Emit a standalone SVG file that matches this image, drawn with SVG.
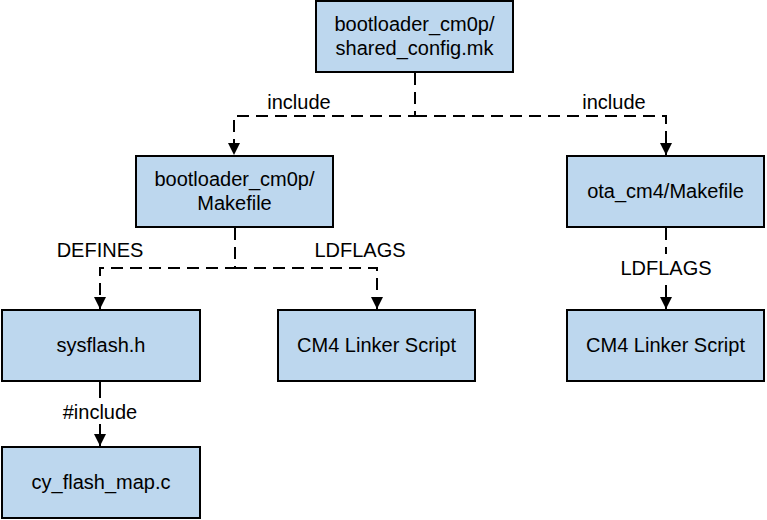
<svg xmlns="http://www.w3.org/2000/svg" width="767" height="520" viewBox="0 0 767 520">
<style>
.box{fill:#bdd7ee;stroke:#000;stroke-width:2}
.t{font-family:"Liberation Sans",Arial,sans-serif;font-size:20px;fill:#000;text-anchor:middle}
.c{fill:none;stroke:#000;stroke-width:2}
.d{stroke-dasharray:12,7}
</style>
<defs>
<marker id="ah" markerWidth="13" markerHeight="12" refX="12" refY="6" orient="auto" markerUnits="userSpaceOnUse">
<path d="M0,0 L12,6 L0,12 Z" fill="#000"/>
</marker>
</defs>
<rect width="767" height="520" fill="#fff"/>
<g id="connectors">
<path class="c d" d="M415,73 V116 H234 V155" marker-end="url(#ah)"/>
<path class="c d" d="M415,116 H666 V155" marker-end="url(#ah)"/>
<path class="c d" d="M235,228 V268 H100 V309" marker-end="url(#ah)"/>
<path class="c d" d="M235,268 H377 V309" marker-end="url(#ah)"/>
<path class="c d" d="M666,228 V309" marker-end="url(#ah)"/>
<path class="c" d="M100,382 V446" marker-end="url(#ah)"/>
<rect x="616" y="254" width="100" height="26" fill="#fff"/>
<rect x="58" y="398" width="84" height="26" fill="#fff"/>
<text class="t" x="299" y="109">include</text>
<text class="t" x="614" y="109">include</text>
<text class="t" x="100" y="257">DEFINES</text>
<text class="t" x="360" y="257">LDFLAGS</text>
<text class="t" x="666" y="275">LDFLAGS</text>
<text class="t" x="100" y="419">#include</text>
</g>
<g id="n_shared">
<rect class="box" x="316" y="1" width="197" height="71"/>
<text class="t" x="414.5" y="31">bootloader_cm0p/</text>
<text class="t" x="414.5" y="55">shared_config.mk</text>
</g>
<g id="n_boot_make">
<rect class="box" x="136" y="156" width="197" height="71"/>
<text class="t" x="234.5" y="186">bootloader_cm0p/</text>
<text class="t" x="234.5" y="210">Makefile</text>
</g>
<g id="n_ota_make">
<rect class="box" x="567" y="156" width="197" height="71"/>
<text class="t" x="665.5" y="198">ota_cm4/Makefile</text>
</g>
<g id="n_sysflash">
<rect class="box" x="2" y="310" width="198" height="71"/>
<text class="t" x="101" y="352">sysflash.h</text>
</g>
<g id="n_linker1">
<rect class="box" x="278" y="310" width="197" height="71"/>
<text class="t" x="376.5" y="352">CM4 Linker Script</text>
</g>
<g id="n_linker2">
<rect class="box" x="567" y="310" width="197" height="71"/>
<text class="t" x="665.5" y="352">CM4 Linker Script</text>
</g>
<g id="n_flashmap">
<rect class="box" x="2" y="447" width="198" height="71"/>
<text class="t" x="101" y="489">cy_flash_map.c</text>
</g>
</svg>
